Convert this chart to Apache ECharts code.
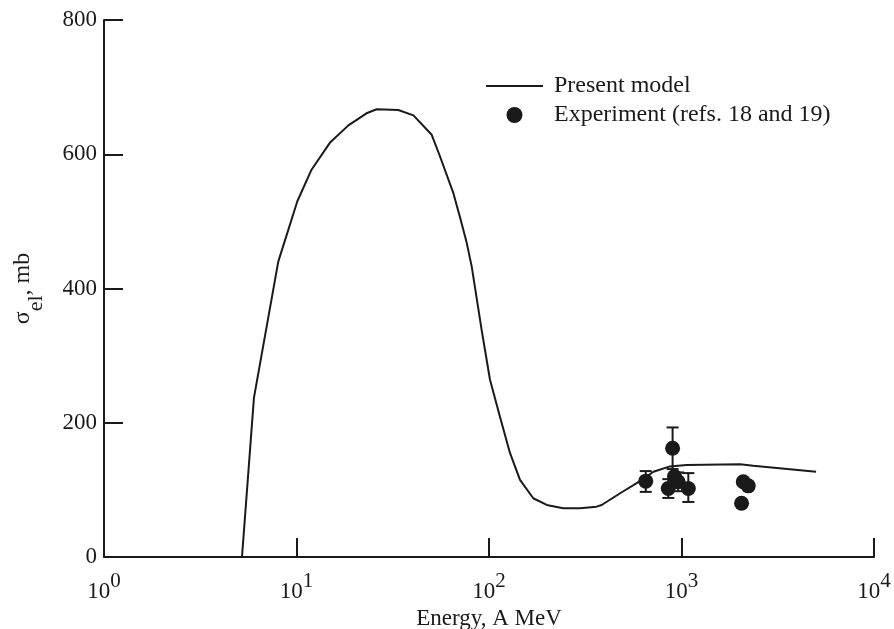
<!DOCTYPE html>
<html>
<head>
<meta charset="utf-8">
<script src="https://cdn.jsdelivr.net/npm/echarts@6/dist/echarts.min.js"></script>
<style>html,body{margin:0;padding:0;background:#fff}#c{width:894px;height:629px}</style>
</head>
<body>
<div id="c"></div>
<script>
// Model curve: energy (A MeV) and elastic cross section (mb)
const modelEnergy = [5.21, 6.01, 8.04, 10.1, 11.97, 14.9, 18.6, 23.1, 26.1, 33.8, 40.5, 50.4, 55.6, 65.3, 70.6, 76.6, 81.3, 91.6, 101.2, 114, 128.5, 144.9, 169.8, 199.5, 243, 297, 362, 385, 480, 585, 715, 871, 1064, 2014, 2360, 5000];
const modelSigma  = [0, 237, 440, 530, 577, 617, 643, 661, 667, 666, 658, 629, 597, 542, 507, 468, 433, 338, 264, 209, 155, 115, 87.5, 77.5, 72.6, 72.6, 75, 77.5, 95, 110, 127, 135, 137, 138, 136, 127];
// Experiment
const expEnergy = [652, 899, 854, 920, 960, 1085, 2094, 2222, 2051];
const expSigma  = [113, 162, 102, 120, 112, 102, 112, 106, 80];
// Error bars (only for some points)
const errEnergy = [652, 899, 854, 920, 960, 1085];
const errLow    = [97, 131, 88, 106, 98, 82];
const errHigh   = [128, 193, 116, 125, 126, 125];
const yTicks = [0, 200, 400, 600, 800];

const FONT = '"Liberation Serif", "DejaVu Serif", serif';
const INK = '#1a1a1a';

const chart = echarts.init(document.getElementById('c'));
chart.setOption({
  backgroundColor: '#fff',
  animation: false,
  grid: { left: 104, right: 20, top: 20, bottom: 72, outerBoundsMode: 'none', containLabel: false },
  legend: {
    left: 486, top: 74, orient: 'vertical', padding: 0,
    itemWidth: 57, itemHeight: 16, itemGap: 5,
    textStyle: { fontFamily: FONT, fontSize: 24, color: INK, padding: [0, 0, 0, 6] },
    data: [
      { name: 'Present model', icon: 'path://M0,0L0,0.01M0,7L57,7L57,9L0,9ZM57,16L57,16.01', itemStyle: { color: INK } },
      { name: 'Experiment (refs. 18 and 19)', icon: 'circle' }
    ]
  },
  xAxis: {
    type: 'log', logBase: 10, min: 1, max: 10000,
    axisLine: { lineStyle: { color: INK, width: 2 } },
    axisTick: { inside: true, length: 19, lineStyle: { color: INK, width: 2 } },
    splitLine: { show: false },
    minorTick: { show: false },
    axisLabel: {
      margin: 14,
      formatter: v => '{b|10}{s|' + Math.round(Math.log10(v)) + '}',
      rich: {
        b: { fontFamily: FONT, fontSize: 23, color: INK, lineHeight: 32, verticalAlign: 'bottom' },
        s: { fontFamily: FONT, fontSize: 21, color: INK, lineHeight: 18, verticalAlign: 'top' }
      }
    },
    name: 'Energy, A MeV', nameLocation: 'middle', nameGap: 44,
    nameTextStyle: { fontFamily: FONT, fontSize: 23, color: INK }
  },
  yAxis: {
    type: 'value', min: 0, max: 800, interval: 200,
    axisLine: { show: true, lineStyle: { color: INK, width: 2 } },
    axisTick: { show: true, inside: true, length: 19, lineStyle: { color: INK, width: 2 } },
    splitLine: { show: false },
    axisLabel: { margin: 7, fontFamily: FONT, fontSize: 23, color: INK,
      formatter: v => yTicks.includes(v) ? String(v) : '' },
    name: '{m|σ}{sub|el}{m|, mb}', nameLocation: 'middle', nameRotate: 90, nameGap: 57,
    nameTextStyle: {
      rich: {
        m: { fontFamily: FONT, fontSize: 24, color: INK, lineHeight: 28, verticalAlign: 'top' },
        sub: { fontFamily: FONT, fontSize: 22, color: INK, lineHeight: 36, verticalAlign: 'bottom' }
      }
    }
  },
  series: [
    {
      name: 'Present model', type: 'line', symbol: 'none', showSymbol: false, smooth: false,
      lineStyle: { color: INK, width: 2 }, itemStyle: { color: INK },
      data: modelEnergy.map((e, i) => [e, modelSigma[i]]), z: 2
    },
    {
      name: 'errbars', type: 'custom',
      data: errEnergy.map((e, i) => [e, errLow[i], errHigh[i]]),
      renderItem: (params, api) => {
        const lo = api.coord([api.value(0), api.value(1)]);
        const hi = api.coord([api.value(0), api.value(2)]);
        const hw = 6;
        const st = { stroke: INK, lineWidth: 2 };
        return { type: 'group', children: [
          { type: 'line', shape: { x1: lo[0], y1: lo[1], x2: hi[0], y2: hi[1] }, style: st },
          { type: 'line', shape: { x1: lo[0] - hw, y1: lo[1], x2: lo[0] + hw, y2: lo[1] }, style: st },
          { type: 'line', shape: { x1: hi[0] - hw, y1: hi[1], x2: hi[0] + hw, y2: hi[1] }, style: st }
        ]};
      },
      z: 3
    },
    {
      name: 'Experiment (refs. 18 and 19)', type: 'scatter', symbol: 'circle', symbolSize: 15,
      itemStyle: { color: INK, opacity: 1 },
      data: expEnergy.map((e, i) => [e, expSigma[i]]), z: 4
    }
  ]
});
</script>
</body>
</html>
